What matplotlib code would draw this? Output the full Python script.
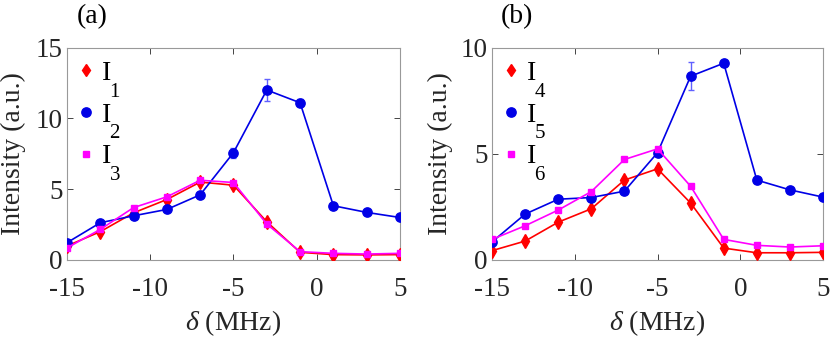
import matplotlib
matplotlib.use("Agg")
import matplotlib.pyplot as plt
from matplotlib.lines import Line2D

plt.rcParams['font.family'] = ['Liberation Serif', 'DejaVu Serif']
plt.rcParams['mathtext.fontset'] = 'custom'
plt.rcParams['mathtext.rm'] = 'Liberation Serif'
plt.rcParams['mathtext.it'] = 'Liberation Serif:italic'

delta = [-15, -13, -11, -9, -7, -5, -3, -1, 1, 3, 5]

# panel (a)
I1 = [0.99, 2.0, 3.33, 4.27, 5.5, 5.28, 2.7, 0.54, 0.38, 0.36, 0.38]
I2 = [1.22, 2.63, 3.12, 3.57, 4.6, 7.58, 12.0, 11.1, 3.83, 3.36, 3.0]
I3 = [0.85, 2.16, 3.7, 4.46, 5.63, 5.47, 2.54, 0.59, 0.47, 0.42, 0.47]
I2_err = [0.1, 0.1, 0.1, 0.1, 0.1, 0.35, 0.8, 0.25, 0.1, 0.1, 0.1]

# panel (b)
I4 = [0.44, 0.89, 1.78, 2.41, 3.76, 4.29, 2.68, 0.56, 0.34, 0.34, 0.36]
I5 = [0.85, 2.16, 2.86, 2.94, 3.24, 5.05, 8.65, 9.26, 3.76, 3.3, 2.96]
I6 = [0.97, 1.61, 2.35, 3.22, 4.73, 5.23, 3.47, 0.97, 0.69, 0.61, 0.67]
I5_err = [0.05, 0.05, 0.05, 0.05, 0.05, 0.15, 0.65, 0.12, 0.12, 0.05, 0.05]

xticks = [-15, -10, -5, 0, 5]
yticks_a = [0, 5, 10, 15]
yticks_b = [0, 5, 10]

RED = '#ff0000'
BLUE = '#0000e6'
MAG = '#ff00ff'
ERRC = '#6060ff'
AXC = '#262626'

fig = plt.figure(figsize=(8.3, 3.44), dpi=100)
ax1 = fig.add_axes([0.0807, 0.2442, 0.4012, 0.6177])
ax2 = fig.add_axes([0.5928, 0.2442, 0.3988, 0.6177])

def panel(ax, r, b, berr, m, subs, yticks, ylim, tag, ylx):
    ax.plot(delta, r, color=RED, marker='d', ms=7, lw=1.2, zorder=3)
    ax.errorbar(delta, b, yerr=berr, fmt='none', ecolor=ERRC, elinewidth=1.0,
                capsize=2.5, capthick=1.0, zorder=3.5)
    ax.plot(delta, b, color=BLUE, marker='o', ms=6.7, lw=1.2, zorder=4)
    ax.plot(delta, m, color=MAG, marker='s', ms=5, lw=1.2, zorder=5)
    ax.set_xlim(-15, 5)
    ax.set_ylim(*ylim)
    ax.set_xticks(xticks)
    ax.set_xticklabels([str(t) for t in xticks])
    ax.set_yticks(yticks)
    ax.tick_params(direction='in', length=4, width=0.6, colors=AXC,
                   labelsize=19.5, top=True, right=True)
    ax.tick_params(axis='x', pad=12)
    ax.tick_params(axis='y', pad=3)
    for s in ax.spines.values():
        s.set_color('#999999')
        s.set_linewidth(0.8)
    ax.set_xlabel(r'$\mathit{\delta}$ (MHz)', fontsize=20, color=AXC, va='center')
    ax.xaxis.set_label_coords(0.5, -0.296)
    ax.set_ylabel('Intensity (a.u.)', fontsize=20, color=AXC, va='center')
    ax.yaxis.set_label_coords(ylx, 0.5)
    handles = [Line2D([], [], color=RED, marker='d', ms=6, ls='none'),
               Line2D([], [], color=BLUE, marker='o', ms=6.7, ls='none'),
               Line2D([], [], color=MAG, marker='s', ms=5, ls='none')]
    leg = ax.legend(handles, ['I', 'I', 'I'], loc='upper left', bbox_to_anchor=(0.0, 0.99),
                    frameon=False, fontsize=20, handlelength=0.6, handletextpad=0.25,
                    labelspacing=0.58, borderaxespad=0.0, borderpad=0.4)
    leg.set_zorder(6)
    for t, s in zip(leg.get_texts(), subs):
        ax.annotate(s, xy=(0.85, 0.14), xycoords=t, fontsize=15, ha='left', va='top',
                    color='black', zorder=10, annotation_clip=False)
    ax.text(0.075, 1.146, tag, transform=ax.transAxes, fontsize=20,
            ha='center', va='center', color='black')

panel(ax1, I1, I2, I2_err, I3, ['1', '2', '3'], yticks_a, (0, 15), '(a)', -0.162)
panel(ax2, I4, I5, I5_err, I6, ['4', '5', '6'], yticks_b, (0, 10), '(b)', -0.157)

fig.savefig('out.png', dpi=100)
